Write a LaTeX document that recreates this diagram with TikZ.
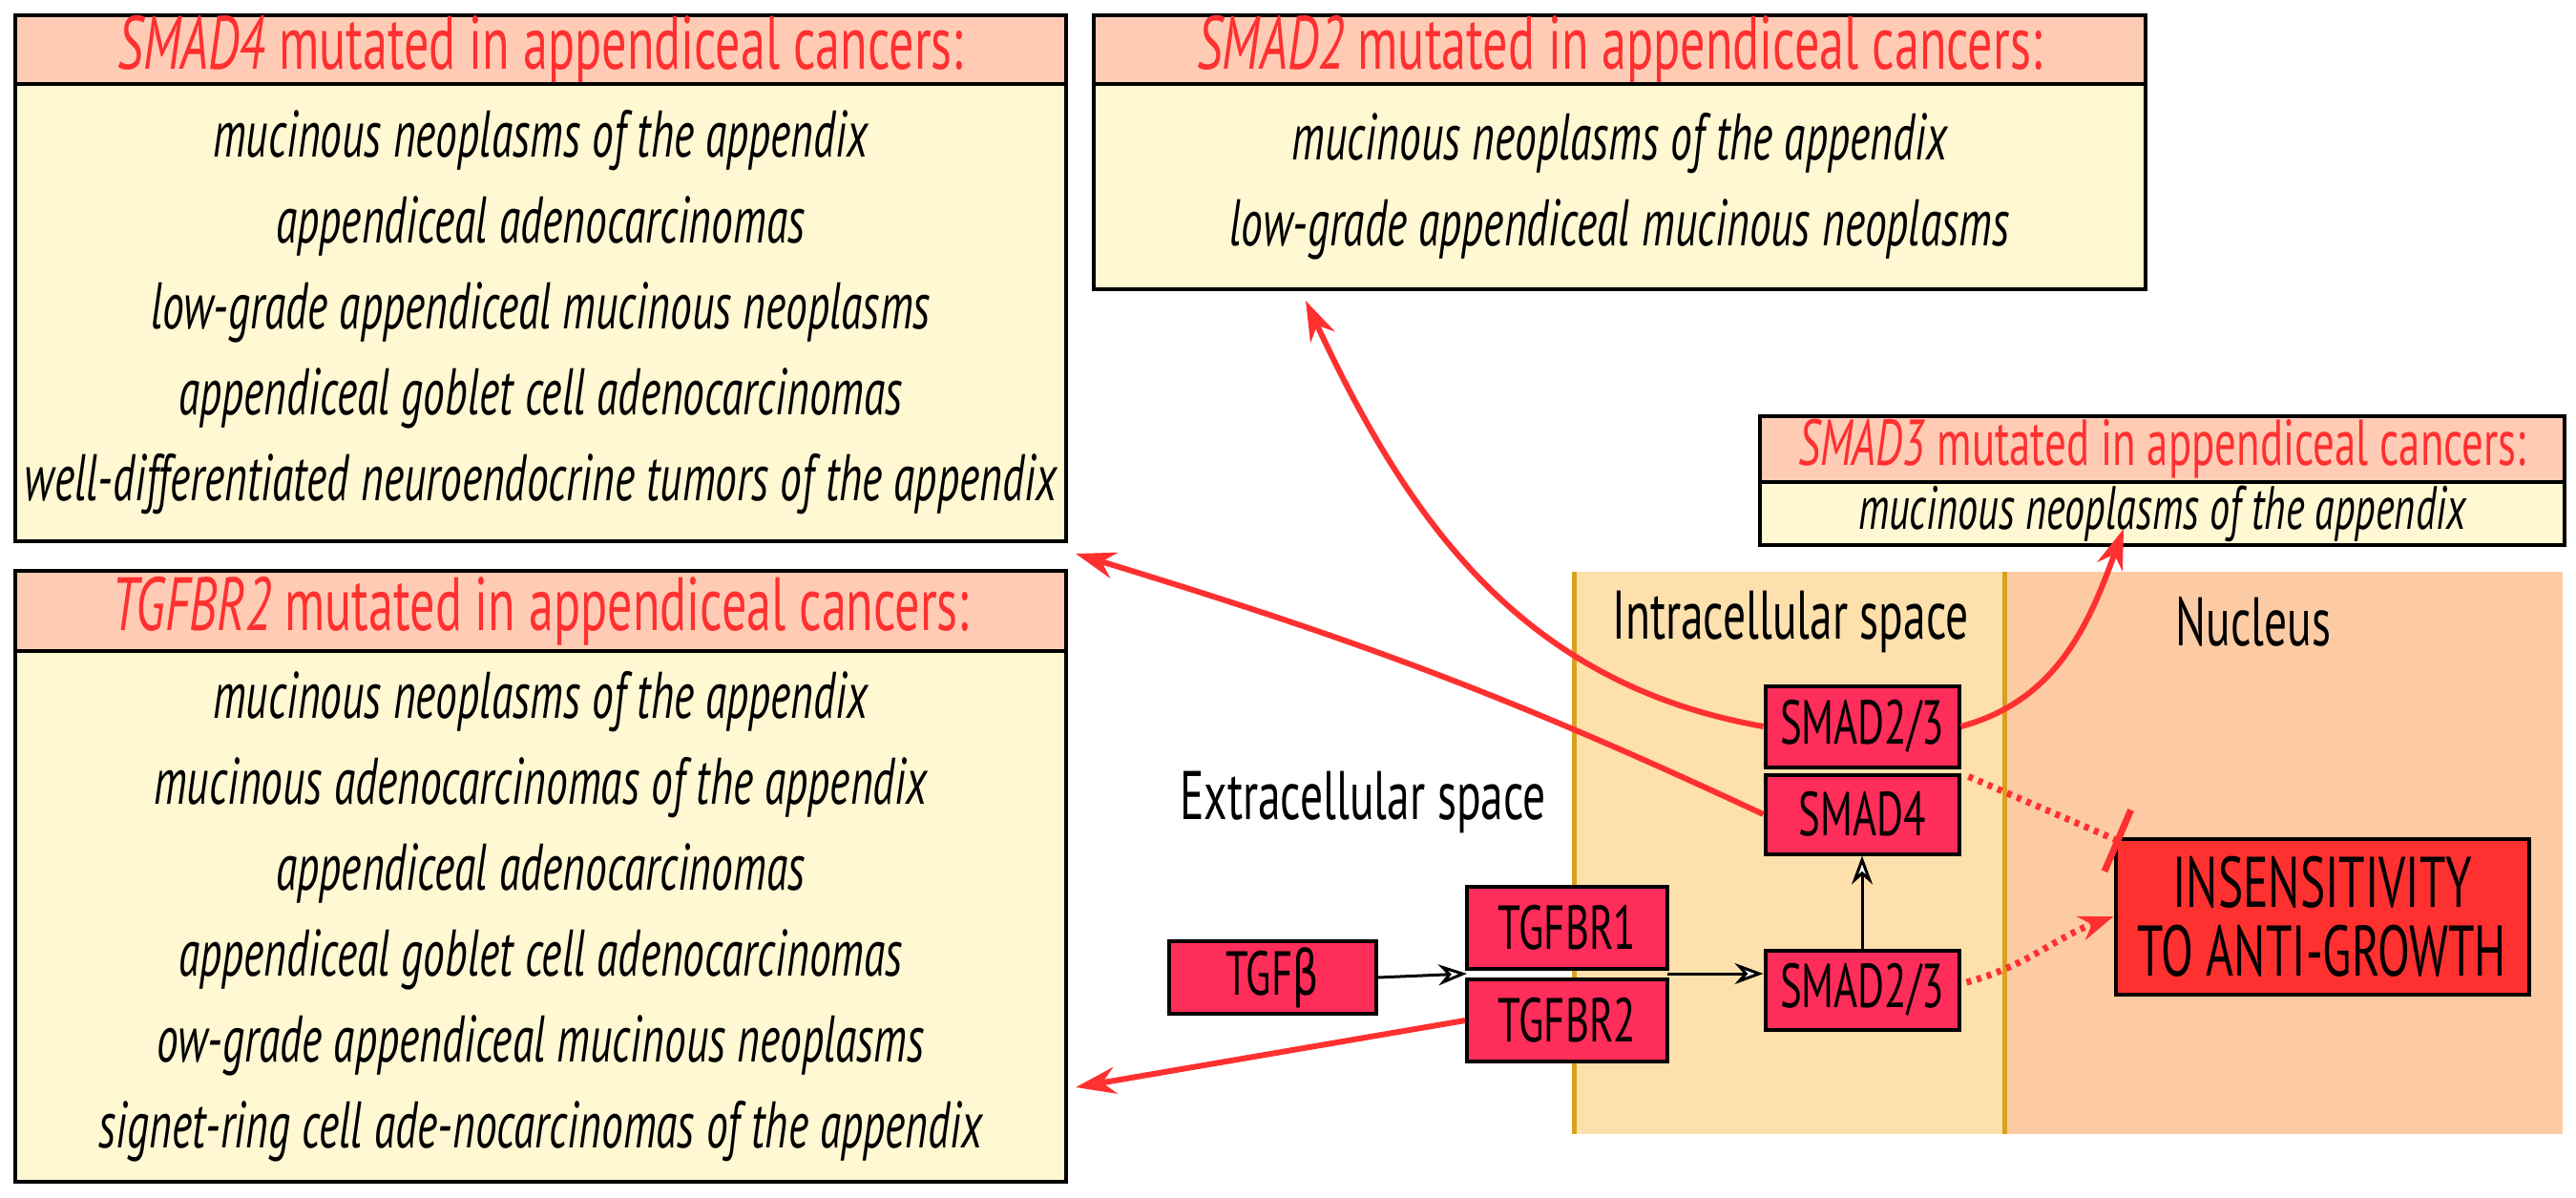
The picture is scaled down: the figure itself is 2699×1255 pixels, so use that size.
\documentclass[tikz,border=0pt]{standalone}
\usepackage{fontspec}
\setmainfont{PT Sans}[FakeStretch=0.66]
\newfontfamily\grk{DejaVu Sans}[FakeStretch=0.66]
\usetikzlibrary{arrows.meta}
\definecolor{myred}{HTML}{FF3030}
\definecolor{gene}{HTML}{FF2D5A}
\definecolor{hdr}{HTML}{FFCBB5}
\definecolor{bodyc}{HTML}{FFF8D2}
\definecolor{intra}{HTML}{FDE0AC}
\definecolor{nuc}{HTML}{FCCBA4}
\definecolor{gold}{HTML}{D9A020}
\tikzset{
 box/.style={draw=black,line width=4pt,inner sep=0pt,anchor=north west},
 hd/.style={box,fill=hdr,text=myred,font=\fontsize{79}{84}\selectfont},
 bd/.style={box,fill=bodyc,align=center,font=\itshape\fontsize{69}{90}\selectfont},
 gn/.style={draw=black,line width=4pt,fill=gene,inner sep=0pt,font=\fontsize{65}{70}\selectfont},
 lbl/.style={font=\fontsize{72}{78}\selectfont},
 mut/.style={myred,line width=6pt,-{Stealth[length=42pt,width=28pt,open,fill=white]}},
 blk/.style={black,line width=3pt,-{Stealth[length=30pt,width=22pt,open,fill=white]}},
 dot/.style={myred,line width=7pt,dash pattern=on 5pt off 6pt},
}
\begin{document}
\begin{tikzpicture}[x=1pt,y=-1pt]
\useasboundingbox (0,0) rectangle (2699,1255);
\fill[white] (0,0) rectangle (2699,1255);
% compartments
\fill[intra] (1649,599) rectangle (2100,1188);
\fill[nuc] (2100,599) rectangle (2685,1188);
\draw[gold,line width=5pt] (1649,599) -- (1649,1188);
\draw[gold,line width=5pt] (2100,599) -- (2100,1188);
\node[lbl] (lintra) at (1876,651) {Intracellular space};
\node[lbl] (lnuc) at (2361,651) {Nucleus};
\node[lbl] (lextra) at (1428,840) {Extracellular space};
% SMAD4 box
\node[hd,minimum width=1101pt,minimum height=72pt] (h4) at (14,14) {\textit{SMAD4} mutated in appendiceal cancers:};
\node[bd,minimum width=1101pt,minimum height=479pt] (b4) at (14,86) {mucinous neoplasms of the appendix\\appendiceal adenocarcinomas\\low-grade appendiceal mucinous neoplasms\\appendiceal goblet cell adenocarcinomas\\well-differentiated neuroendocrine tumors of the appendix};
% TGFBR2 box
\node[hd,minimum width=1101pt,minimum height=84pt] (hr) at (14,596) {\textit{TGFBR2} mutated in appendiceal cancers:};
\node[bd,minimum width=1101pt,minimum height=556pt] (br) at (14,680) {mucinous neoplasms of the appendix\\mucinous adenocarcinomas of the appendix\\appendiceal adenocarcinomas\\appendiceal goblet cell adenocarcinomas\\ow-grade appendiceal mucinous neoplasms\\signet-ring cell ade-nocarcinomas of the appendix};
% SMAD2 box
\node[hd,minimum width=1102pt,minimum height=72pt] (h2) at (1144,14) {\textit{SMAD2} mutated in appendiceal cancers:};
\node[bd,minimum width=1102pt,minimum height=215pt] (b2) at (1144,86) {mucinous neoplasms of the appendix\\low-grade appendiceal mucinous neoplasms};
% SMAD3 box
\node[hd,minimum width=843pt,minimum height=69pt,font=\fontsize{68}{72}\selectfont] (h3) at (1842,434) {\textit{SMAD3} mutated in appendiceal cancers:};
\node[bd,minimum width=843pt,minimum height=66pt,font=\itshape\fontsize{64}{70}\selectfont] (b3) at (1842,503) {mucinous neoplasms of the appendix};
% genes
\node[gn,minimum width=217pt,minimum height=76pt] (tgfb) at (1333,1024) {TGF{\grk β}};
\node[gn,minimum width=210pt,minimum height=86pt] (r1) at (1642,972) {TGFBR1};
\node[gn,minimum width=210pt,minimum height=86pt] (r2) at (1642,1069) {TGFBR2};
\node[gn,minimum width=203pt,minimum height=83pt] (s23b) at (1951,1037) {SMAD2/3};
\node[gn,minimum width=203pt,minimum height=83pt] (s4) at (1951,853) {SMAD4};
\node[gn,minimum width=203pt,minimum height=85pt] (s23t) at (1951,761) {SMAD2/3};
\node[draw=black,line width=4pt,fill=myred,inner sep=0pt,minimum width=433pt,minimum height=163pt,align=center,font=\fontsize{75}{72}\selectfont] (ins) at (2433,960) {INSENSITIVITY\\TO ANTI-GROWTH};
\coordinate (rj) at (1537,1020);
\coordinate (rjr) at (1747,1020);
% black arrows
\draw[blk] (tgfb.east) -- (rj);
\draw[blk] (rjr) -- (s23b.west |- rjr);
\draw[blk] (s23b.north) -- (s4.south);
% dotted
\draw[dot,-{Bar[width=70pt,line width=7pt]}] (s23t.south east) ++(8,8) coordinate (d1) (d1) -- (2222,882);
\draw[dot,-{Stealth[length=36pt,width=26pt,open,fill=white]}] (s23b.east) ++(6,-8) coordinate (d2) (d2) to[out=15,in=200] (ins.west);
% mutation arrows
\coordinate (e2) at (1368,315);
\coordinate (e4) at (1127,580);
\coordinate (er) at (1127,1139);
\coordinate (e3) at (2225,554);
\draw[mut] (s23t.west) to[out=170,in=-65] (e2);
\draw[mut] (s4.west) to[out=155,in=-17] (e4);
\draw[mut] (r2.west) -- (er);
\draw[mut] (s23t.east) to[out=15,in=-110] (e3);
\end{tikzpicture}
\end{document}
